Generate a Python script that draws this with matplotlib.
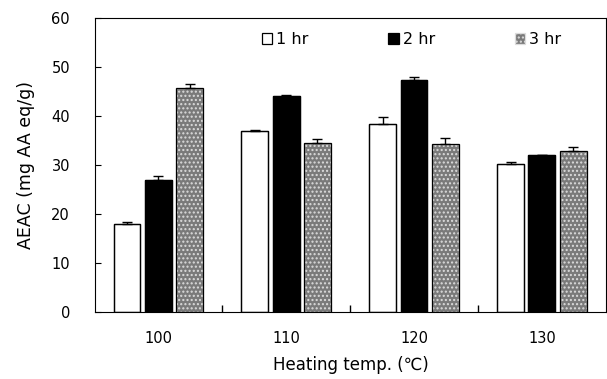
import numpy as np
import matplotlib
matplotlib.use("Agg")
import matplotlib.pyplot as plt

# === Data ===
temps = ["100", "110", "120", "130"]
series = ["1 hr", "2 hr", "3 hr"]
hr1 = [18.0, 36.9, 38.4, 30.3]
hr1_err = [0.3, 0.2, 1.4, 0.4]
hr2 = [26.9, 44.0, 47.3, 32.0]
hr2_err = [0.9, 0.2, 0.7, 0.1]
hr3 = [45.8, 34.4, 34.3, 32.9]
hr3_err = [0.7, 1.0, 1.3, 0.8]

plt.rcParams['font.family'] = ['DejaVu Sans']
plt.rcParams['hatch.linewidth'] = 1.0

fig = plt.figure(figsize=(6.07, 3.79), dpi=100)
ax = fig.add_axes([95 / 607, 1 - 312 / 379, 1 - 95 / 607 - 0.002, (312 - 18) / 379])

x = np.arange(len(temps))
w = 0.21
off = 0.245
styles = [
    dict(facecolor='white', edgecolor='black'),
    dict(facecolor='black', edgecolor='black'),
    dict(facecolor='#7a7a7a', edgecolor='#dcdcdc', hatch='....'),
]
vals = [hr1, hr2, hr3]
errs = [hr1_err, hr2_err, hr3_err]
for i, (v, e, st) in enumerate(zip(vals, errs, styles)):
    pos = x + (i - 1) * off
    ax.bar(pos, v, w, label=series[i], linewidth=0.9, **st)
    # black outline on top of the textured fill
    ax.bar(pos, v, w, fill=False, edgecolor='black', linewidth=0.9,
           yerr=[np.zeros(len(e)), e], capsize=3.5,
           error_kw=dict(elinewidth=1, capthick=1, ecolor='black'))

ax.set_xlim(-0.495, 3.5)
ax.set_ylim(0, 60)
ax.set_yticks(range(0, 61, 10))
ax.set_xticks(x)
ax.set_xticklabels(temps)
ax.set_xticks([0.5, 1.5, 2.5], minor=True)
ax.tick_params(axis='x', which='major', length=0, pad=14, labelsize=10.5)
ax.tick_params(axis='x', which='minor', direction='in', length=5, width=1)
ax.tick_params(axis='y', direction='in', length=4, labelsize=10.5, pad=18)
for s in ax.spines.values():
    s.set_linewidth(0.8)

ax.set_ylabel("AEAC (mg AA eq/g)", fontsize=12.5, labelpad=12)
ax.set_xlabel("Heating temp. (\u2103)", fontsize=12, labelpad=7)

handles, labels = ax.get_legend_handles_labels()
ax.legend(handles, labels, ncol=3, frameon=False, loc='upper center',
          bbox_to_anchor=(0.62, 1.0),
          handlelength=0.65, handleheight=0.65, handletextpad=0.25,
          columnspacing=5.0, fontsize=11.5)

fig.savefig("out.png", dpi=100)
